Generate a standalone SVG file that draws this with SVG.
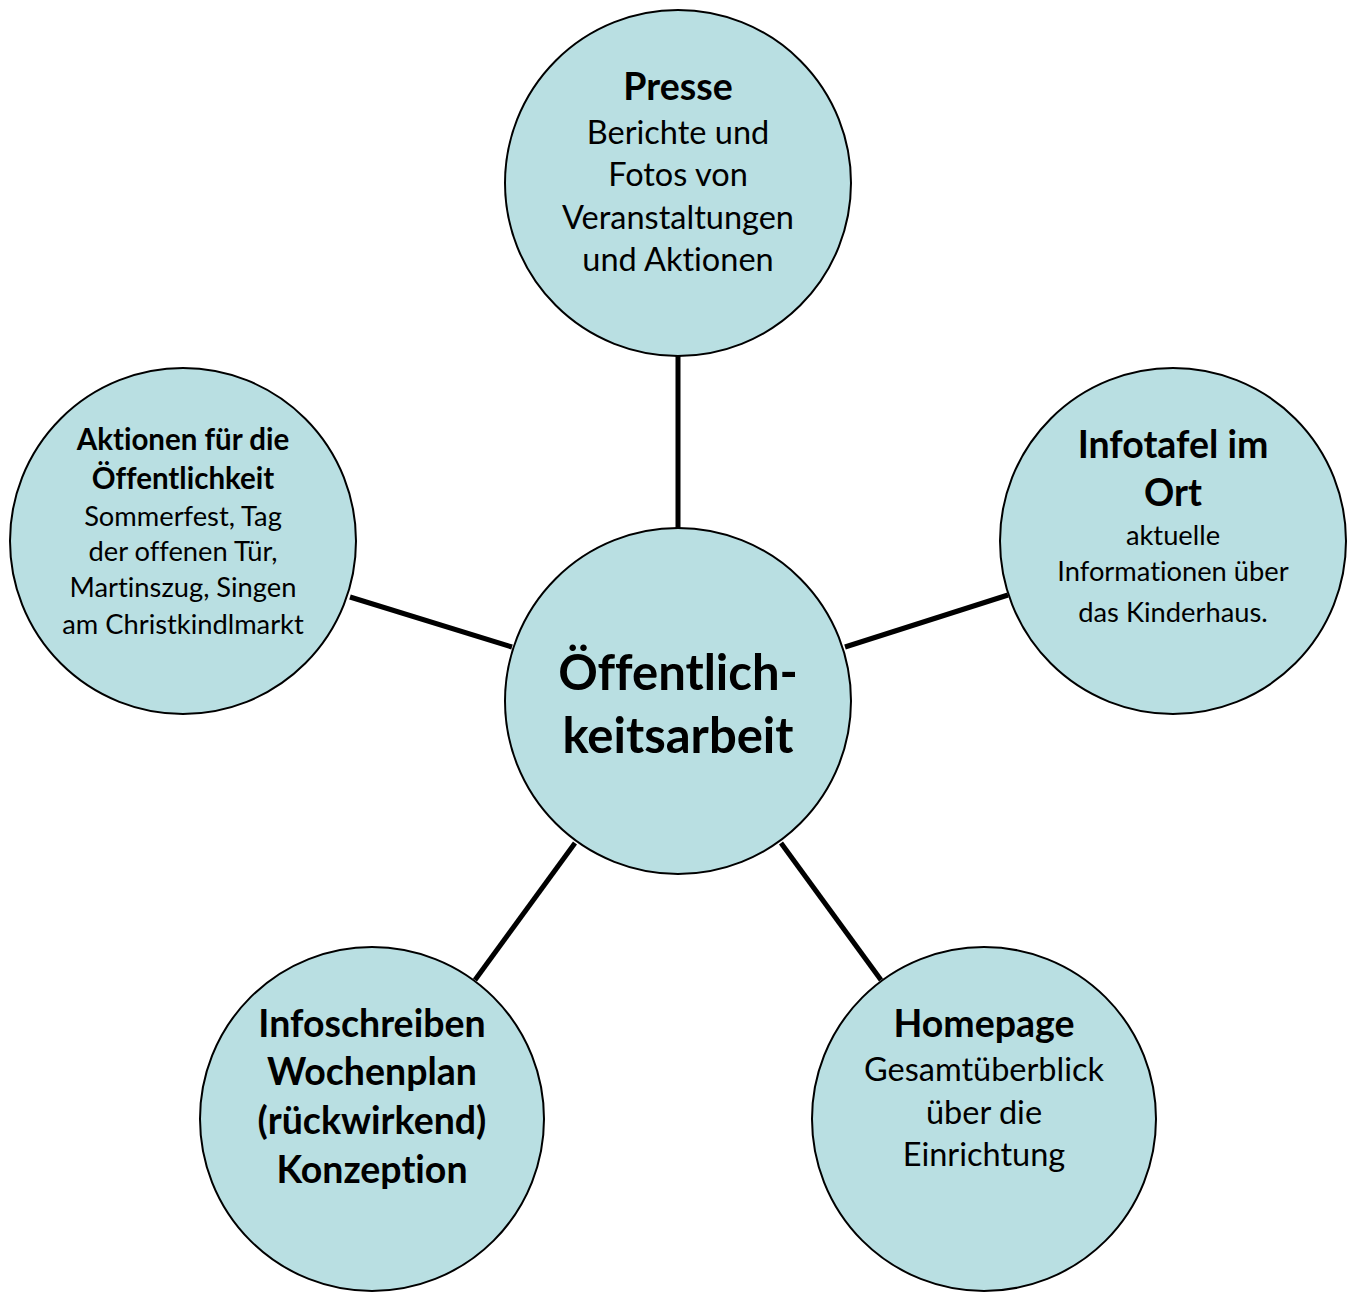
<svg xmlns="http://www.w3.org/2000/svg" width="1353" height="1292" viewBox="0 0 1353 1292">
<style>
.node{fill:#b9dfe2;stroke:#000;stroke-width:2}
.conn{stroke:#000;stroke-width:5;fill:none}
text{font-family:Lato,"Open Sans","Liberation Sans",sans-serif;fill:#000;text-anchor:middle;font-variant-ligatures:none;font-feature-settings:"liga" 0}
.b{font-weight:bold}
.hb{font-size:37.5px}
.hr{font-size:32.5px}
.sb{font-size:29.5px}
.sr{font-size:27.3px}
.c{font-size:49px}
</style>
<rect width="1353" height="1292" fill="#fff"/>
<g id="connectors">
<line class="conn" x1="678" y1="356" x2="678" y2="528"/>
<line class="conn" x1="350" y1="597" x2="512" y2="647"/>
<line class="conn" x1="845" y1="647" x2="1008" y2="595"/>
<line class="conn" x1="575" y1="843" x2="475" y2="980"/>
<line class="conn" x1="781" y1="843" x2="881" y2="980"/>
</g>
<g id="presse">
<circle class="node" cx="678" cy="183" r="173"/>
<text class="b hb" x="678" y="100">Presse</text>
<text class="hr" x="678" y="144">Berichte und</text>
<text class="hr" x="678" y="186">Fotos von</text>
<text class="hr" x="678" y="229">Veranstaltungen</text>
<text class="hr" x="678" y="271">und Aktionen</text>
</g>
<g id="aktionen">
<circle class="node" cx="183" cy="541" r="173"/>
<text class="b sb" x="183" y="450">Aktionen für die</text>
<text class="b sb" x="183" y="489">Öffentlichkeit</text>
<text class="sr" x="183" y="526">Sommerfest, Tag</text>
<text class="sr" x="183" y="561">der offenen Tür,</text>
<text class="sr" x="183" y="597">Martinszug, Singen</text>
<text class="sr" x="183" y="634">am Christkindlmarkt</text>
</g>
<g id="infotafel">
<circle class="node" cx="1173" cy="541" r="173"/>
<text class="b hb" x="1173" y="458">Infotafel im</text>
<text class="b hb" x="1173" y="506">Ort</text>
<text class="sr" x="1173" y="545">aktuelle</text>
<text class="sr" x="1173" y="581">Informationen über</text>
<text class="sr" x="1173" y="622">das Kinderhaus.</text>
</g>
<g id="center">
<circle class="node" cx="678" cy="701" r="173"/>
<text class="b c" x="678" y="690">Öffentlich-</text>
<text class="b c" x="678" y="753">keitsarbeit</text>
</g>
<g id="infoschreiben">
<circle class="node" cx="372" cy="1119" r="172"/>
<text class="b hb" x="372" y="1037">Infoschreiben</text>
<text class="b hb" x="372" y="1085">Wochenplan</text>
<text class="b hb" x="372" y="1134">(rückwirkend)</text>
<text class="b hb" x="372" y="1183">Konzeption</text>
</g>
<g id="homepage">
<circle class="node" cx="984" cy="1119" r="172"/>
<text class="b hb" x="984" y="1037">Homepage</text>
<text class="hr" x="984" y="1081">Gesamtüberblick</text>
<text class="hr" x="984" y="1124">über die</text>
<text class="hr" x="984" y="1166">Einrichtung</text>
</g>
</svg>
